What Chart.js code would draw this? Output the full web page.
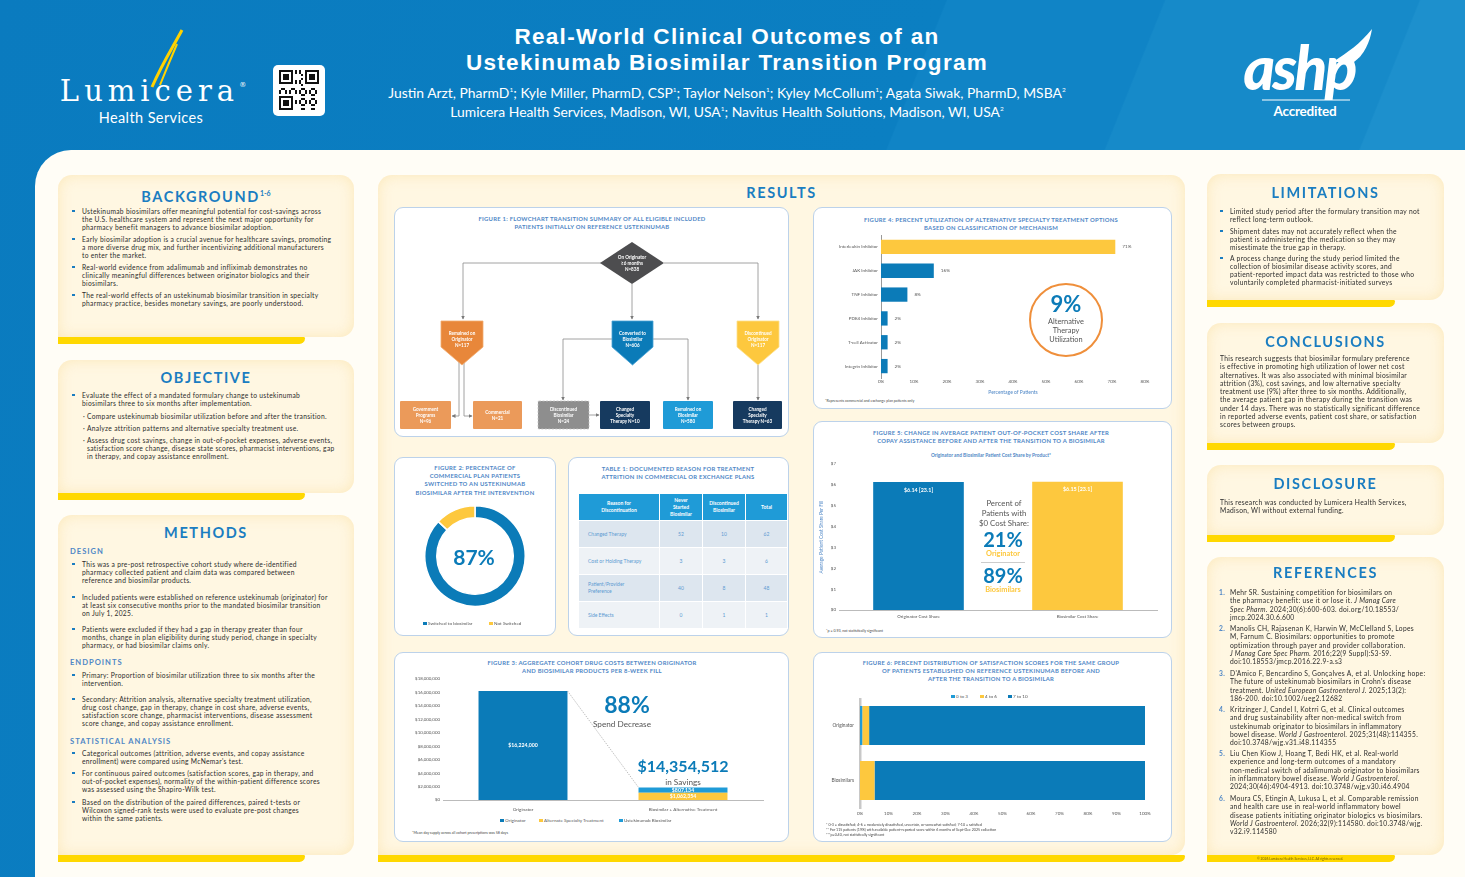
<!DOCTYPE html>
<html>
<head>
<meta charset="utf-8">
<script src="https://cdn.jsdelivr.net/npm/chart.js@4.4.1/dist/chart.umd.min.js"></script>
<style>
body{margin:0;background:#0b7fc2;}
#poster{position:relative;width:1465px;height:877px;overflow:hidden;font-family:Lato,"Open Sans",sans-serif;
 background:linear-gradient(112deg,#0a7bbf 0%,#0b7fc2 52%,#1084c6 52.1%,#1084c6 64%,#168ac9 64.1%,#168ac9 78%,#1d90cd 78.1%);}
#panel{position:absolute;left:35px;top:150px;width:1430px;height:727px;background:#fffdf6;border-top-left-radius:36px;}
.box{position:absolute;background:#fff7e2;border-radius:14px 14px 14px 0;box-shadow:inset 0 0 14px rgba(250,224,165,.65);}
.ybar{position:absolute;height:7px;background:#ffd800;border-radius:0 2px 8px 0;}
.st{position:absolute;font-weight:700;font-size:14.5px;line-height:16px;color:#1a7dc1;letter-spacing:1.6px;text-align:center;}
.st sup{font-size:7px;letter-spacing:0;}
.tx{position:absolute;font-size:6.7px;line-height:8.1px;letter-spacing:.3px;color:#2c2c2c;white-space:nowrap;}
.b::before{content:'';position:absolute;left:-10px;top:2.6px;width:2.8px;height:2.8px;background:#1a7dc1;}
.s::before{content:'\00B7';position:absolute;left:-4px;top:0;}
.n{position:absolute;left:-11px;color:#4f87c6;font-weight:700;}
.sh{position:absolute;font-weight:700;font-size:7.6px;line-height:10px;color:#4f87c6;letter-spacing:1px;}
.fig{position:absolute;background:#fff;border:1px solid #bcd2ea;border-radius:9px;box-sizing:border-box;}
.ft{position:absolute;font-weight:700;font-size:5.9px;line-height:8.2px;color:#4f87c6;letter-spacing:.25px;text-align:center;white-space:nowrap;transform:translateX(-50%);}
.c{position:absolute;transform:translate(-50%,-50%);white-space:nowrap;text-align:center;}
.fn{position:absolute;font-size:3.6px;line-height:5px;color:#444;white-space:nowrap;}
.lg{position:absolute;font-size:4.6px;color:#555;white-space:nowrap;transform:translateY(-50%);}
.lg i{display:inline-block;width:3.6px;height:3.6px;margin-right:1.5px;vertical-align:-0.3px;}
.cv{position:absolute;}
#tbl{position:absolute;left:578px;top:493px;border-collapse:collapse;font-size:5px;}
#tbl th{background:#1f9bd7;color:#fff;font-weight:700;height:26px;border:1.2px solid #fff;line-height:7px;padding:0 2px;}
#tbl td{color:#5d9bd2;height:24px;border:1.2px solid #fff;text-align:center;line-height:7px;}
#tbl td.r{text-align:left;padding-left:9px;}
#tbl tr:nth-child(odd) td{background:#eef2f6;}
#tbl tr:nth-child(even) td{background:#dde6ef;}
</style>
</head>
<body>
<div id="poster">

<!-- header -->
<svg style="position:absolute;left:0;top:0" width="1465" height="150">
  <path d="M182,30 C173,47 163,62 152,87" stroke="#ffd200" stroke-width="3" fill="none"/>
  <path d="M177,44 C171,58 166,70 160,85" stroke="#ffd200" stroke-width="2" fill="none"/>
  <rect x="273" y="65" width="52" height="51" rx="5" fill="#fff"/>
  <g id="qr" fill="#111"></g>
  <path d="M1333,62 C1348,52 1360,44 1372,29 C1370,42 1364,55 1354,62 Z" fill="#fff"/>
  <line x1="1262" y1="100" x2="1350" y2="100" stroke="#fff" stroke-width="1.2"/>
</svg>
<div class="c" style="left:153px;top:91px;color:#fff;font-family:'DejaVu Serif',serif;font-size:29px;letter-spacing:5px;">Lumicera<span style="font-size:7px;vertical-align:14px;letter-spacing:0">®</span></div>
<div class="c" style="left:151px;top:117px;color:#fff;font-size:14.5px;letter-spacing:.4px;">Health Services</div>
<div class="c" style="left:1302px;top:67px;color:#fff;font-weight:900;font-style:italic;font-size:60px;letter-spacing:-2.5px;">ashp<span style="font-size:7px;vertical-align:32px;font-style:normal;letter-spacing:0">®</span></div>
<div class="c" style="left:1305px;top:111px;color:#fff;font-weight:700;font-size:13.5px;letter-spacing:-.2px;">Accredited</div>
<div class="c" style="left:727px;top:50px;color:#fff;font-family:'Liberation Sans',Arial,sans-serif;font-weight:700;font-size:22.5px;line-height:26px;letter-spacing:1.3px;">Real-World Clinical Outcomes of an<br>Ustekinumab Biosimilar Transition Program</div>
<div class="c" style="left:727px;top:92px;color:#fff;font-size:13.9px;">Justin Arzt, PharmD<sup style="font-size:6.5px">1</sup>; Kyle Miller, PharmD, CSP<sup style="font-size:6.5px">1</sup>; Taylor Nelson<sup style="font-size:6.5px">1</sup>; Kyley McCollum<sup style="font-size:6.5px">1</sup>; Agata Siwak, PharmD, MSBA<sup style="font-size:6.5px">2</sup></div>
<div class="c" style="left:727px;top:111px;color:#fff;font-size:13.9px;">Lumicera Health Services, Madison, WI, USA<sup style="font-size:6.5px">1</sup>; Navitus Health Solutions, Madison, WI, USA<sup style="font-size:6.5px">2</sup></div>

<div id="panel"></div>

<!-- left column -->
<div class="box" style="left:58px;top:175px;width:296px;height:162px;"></div>
<div class="ybar" style="left:58px;top:337px;width:247px;"></div>
<div class="st" style="left:58px;top:185px;width:296px;">BACKGROUND<sup>1-6</sup></div>
<div class="tx b" style="left:82px;top:207px;">Ustekinumab biosimilars offer meaningful potential for cost-savings across<br>the U.S. healthcare system and represent the next major opportunity for<br>pharmacy benefit managers to advance biosimilar adoption.</div>
<div class="tx b" style="left:82px;top:235px;">Early biosimilar adoption is a crucial avenue for healthcare savings, promoting<br>a more diverse drug mix, and further incentivizing additional manufacturers<br>to enter the market.</div>
<div class="tx b" style="left:82px;top:263px;">Real-world evidence from adalimumab and infliximab demonstrates no<br>clinically meaningful differences between originator biologics and their<br>biosimilars.</div>
<div class="tx b" style="left:82px;top:291px;">The real-world effects of an ustekinumab biosimilar transition in specialty<br>pharmacy practice, besides monetary savings, are poorly understood.</div>

<div class="box" style="left:58px;top:360px;width:296px;height:133px;"></div>
<div class="ybar" style="left:58px;top:493px;width:247px;"></div>
<div class="st" style="left:58px;top:370px;width:296px;">OBJECTIVE</div>
<div class="tx b" style="left:82px;top:391px;">Evaluate the effect of a mandated formulary change to ustekinumab<br>biosimilars three to six months after implementation.</div>
<div class="tx s" style="left:87px;top:412px;">Compare ustekinumab biosimilar utilization before and after the transition.</div>
<div class="tx s" style="left:87px;top:424px;">Analyze attrition patterns and alternative specialty treatment use.</div>
<div class="tx s" style="left:87px;top:436px;">Assess drug cost savings, change in out-of-pocket expenses, adverse events,<br>satisfaction score change, disease state scores, pharmacist interventions, gap<br>in therapy, and copay assistance enrollment.</div>

<div class="box" style="left:58px;top:515px;width:296px;height:340px;"></div>
<div class="ybar" style="left:58px;top:855px;width:247px;"></div>
<div class="st" style="left:58px;top:525px;width:296px;">METHODS</div>
<div class="sh" style="left:70px;top:546px;">DESIGN</div>
<div class="tx b" style="left:82px;top:560px;">This was a pre-post retrospective cohort study where de-identified<br>pharmacy collected patient and claim data was compared between<br>reference and biosimilar products.</div>
<div class="tx b" style="left:82px;top:593px;">Included patients were established on reference ustekinumab (originator) for<br>at least six consecutive months prior to the mandated biosimilar transition<br>on July 1, 2025.</div>
<div class="tx b" style="left:82px;top:625px;">Patients were excluded if they had a gap in therapy greater than four<br>months, change in plan eligibility during study period, change in specialty<br>pharmacy, or had biosimilar claims only.</div>
<div class="sh" style="left:70px;top:657px;">ENDPOINTS</div>
<div class="tx b" style="left:82px;top:671px;">Primary: Proportion of biosimilar utilization three to six months after the<br>intervention.</div>
<div class="tx b" style="left:82px;top:695px;">Secondary: Attrition analysis, alternative specialty treatment utilization,<br>drug cost change, gap in therapy, change in cost share, adverse events,<br>satisfaction score change, pharmacist interventions, disease assessment<br>score change, and copay assistance enrollment.</div>
<div class="sh" style="left:70px;top:736px;">STATISTICAL ANALYSIS</div>
<div class="tx b" style="left:82px;top:749px;">Categorical outcomes (attrition, adverse events, and copay assistance<br>enrollment) were compared using McNemar's test.</div>
<div class="tx b" style="left:82px;top:769px;">For continuous paired outcomes (satisfaction scores, gap in therapy, and<br>out-of-pocket expenses), normality of the within-patient difference scores<br>was assessed using the Shapiro-Wilk test.</div>
<div class="tx b" style="left:82px;top:798px;">Based on the distribution of the paired differences, paired t-tests or<br>Wilcoxon signed-rank tests were used to evaluate pre-post changes<br>within the same patients.</div>

<!-- results column -->
<div class="box" style="left:378px;top:175px;width:807px;height:680px;"></div>
<div class="ybar" style="left:378px;top:855px;width:807px;"></div>
<div class="st" style="left:378px;top:185px;width:807px;">RESULTS</div>

<div class="fig" style="left:394px;top:207px;width:395px;height:230px;"></div>
<div class="ft" style="left:592px;top:215px;">FIGURE 1: FLOWCHART TRANSITION SUMMARY OF ALL ELIGIBLE INCLUDED<br>PATIENTS INITIALLY ON REFERENCE USTEKINUMAB</div>

<div class="fig" style="left:394px;top:457px;width:162px;height:179px;"></div>
<div class="ft" style="left:475px;top:464px;">FIGURE 2: PERCENTAGE OF<br>COMMERCIAL PLAN PATIENTS<br>SWITCHED TO AN USTEKINUMAB<br>BIOSIMILAR AFTER THE INTERVENTION</div>
<div class="cv" style="left:424px;top:505px;width:102px;height:102px;"><canvas id="fig2"></canvas></div>
<div class="c" style="left:474px;top:557px;font-size:21px;line-height:18px;font-weight:700;color:#0b7bb8;">87%</div>
<div id="leg2"></div>

<div class="fig" style="left:568px;top:457px;width:221px;height:179px;"></div>
<div class="ft" style="left:678px;top:465px;">TABLE 1: DOCUMENTED REASON FOR TREATMENT<br>ATTRITION IN COMMERCIAL OR EXCHANGE PLANS</div>
<table id="tbl"></table>

<div class="fig" style="left:394px;top:652px;width:395px;height:190px;"></div>
<div class="ft" style="left:592px;top:659px;">FIGURE 3: AGGREGATE COHORT DRUG COSTS BETWEEN ORIGINATOR<br>AND BIOSIMILAR PRODUCTS PER 8-WEEK FILL</div>
<div class="cv" style="left:396px;top:675px;width:374px;height:140px;"><canvas id="fig3"></canvas></div>
<div class="c" style="left:627px;top:704px;font-size:23px;line-height:16px;font-weight:700;color:#0b7bb8;">88%</div>
<div class="c" style="left:622px;top:723.5px;font-size:8.2px;line-height:7px;color:#555;">Spend Decrease</div>
<div class="c" style="left:683px;top:766px;font-size:16px;line-height:12px;font-weight:700;color:#0b7bb8;">$14,354,512</div>
<div class="c" style="left:683px;top:781.5px;font-size:8.2px;line-height:7px;color:#555;">in Savings</div>
<div id="leg3"></div>
<div class="fn" style="left:412px;top:830px;">*Mean day supply across all cohort prescriptions was 58 days</div>

<div class="fig" style="left:813px;top:207px;width:359px;height:202px;"></div>
<div class="ft" style="left:991px;top:216px;">FIGURE 4: PERCENT UTILIZATION OF ALTERNATIVE SPECIALTY TREATMENT OPTIONS<br>BASED ON CLASSIFICATION OF MECHANISM</div>
<div class="cv" style="left:820px;top:235px;width:345px;height:163px;"><canvas id="fig4"></canvas></div>
<div style="position:absolute;left:1029px;top:283px;width:74px;height:74px;border:2px solid #ef8f3b;border-radius:50%;box-sizing:border-box;"></div>
<div class="c" style="left:1066px;top:304px;font-size:22px;line-height:14px;font-weight:700;color:#0b7bb8;">9%</div>
<div class="c" style="left:1066px;top:330px;font-size:7.4px;line-height:9px;color:#555;">Alternative<br>Therapy<br>Utilization</div>
<div class="fn" style="left:825px;top:398px;">*Represents commercial and exchange plan patients only</div>

<div class="fig" style="left:813px;top:421px;width:359px;height:217px;"></div>
<div class="ft" style="left:991px;top:429px;">FIGURE 5: CHANGE IN AVERAGE PATIENT OUT-OF-POCKET COST SHARE AFTER<br>COPAY ASSISTANCE BEFORE AND AFTER THE TRANSITION TO A BIOSIMILAR</div>
<div class="c" style="left:991px;top:455px;font-size:4.8px;font-weight:700;color:#4f87c6;">Originator and Biosimilar Patient Cost Share by Product*</div>
<div class="cv" style="left:818px;top:460px;width:345px;height:162px;"><canvas id="fig5"></canvas></div>
<div class="c" style="left:1004px;top:514px;font-size:7.8px;line-height:9.8px;color:#555;">Percent of<br>Patients with<br>$0 Cost Share:</div>
<div class="c" style="left:1003px;top:539px;font-size:20px;line-height:15px;font-weight:700;color:#0b7bb8;">21%</div>
<div class="c" style="left:1003px;top:552.5px;font-size:7.4px;line-height:7px;font-weight:700;color:#fdc83e;">Originator</div>
<div style="position:absolute;left:981px;top:562px;width:44px;height:0;border-top:0.8px solid #ccc;"></div>
<div class="c" style="left:1003px;top:575px;font-size:20px;line-height:15px;font-weight:700;color:#0b7bb8;">89%</div>
<div class="c" style="left:1003px;top:588.5px;font-size:7.4px;line-height:7px;font-weight:700;color:#fdc83e;">Biosimilars</div>
<div class="fn" style="left:826px;top:628px;">*p = 0.93, not statistically significant</div>

<div class="fig" style="left:813px;top:652px;width:359px;height:190px;"></div>
<div class="ft" style="left:991px;top:659px;">FIGURE 6: PERCENT DISTRIBUTION OF SATISFACTION SCORES FOR THE SAME GROUP<br>OF PATIENTS ESTABLISHED ON REFERENCE USTEKINUMAB BEFORE AND<br>AFTER THE TRANSITION TO A BIOSIMILAR</div>
<div id="leg6"></div>
<div class="cv" style="left:815px;top:698px;width:345px;height:120px;"><canvas id="fig6"></canvas></div>
<div class="fn" style="left:826px;top:822px;">* 0-3 = dissatisfied; 4-6 = moderately dissatisfied, uncertain, or somewhat satisfied; 7-10 = satisfied<br>** For 115 patients (19%) with available patient-reported score within 6 months of Sept-Dec 2025 collection<br>***p=0.40, not statistically significant</div>

<!-- flowchart -->
<svg style="position:absolute;left:0;top:0" width="1465" height="877" font-family="Lato, sans-serif">
  <defs><marker id="ar" markerWidth="4" markerHeight="4" refX="3.5" refY="2" orient="auto" markerUnits="userSpaceOnUse"><path d="M0,0 L4,2 L0,4z" fill="#7a7a7a"/></marker></defs>
  <g stroke="#8a8a8a" stroke-width="0.8" fill="none">
    <polyline points="601,263 463,263 463,319" marker-end="url(#ar)"/>
    <polyline points="664,263 758,263 758,319" marker-end="url(#ar)"/>
    <polyline points="632,284 632,319" marker-end="url(#ar)"/>
    <polyline points="459,358 459,416 452,416" marker-end="url(#ar)"/>
    <polyline points="464,358 464,416 472,416" marker-end="url(#ar)"/>
    <polyline points="612,339 563,339 563,400" marker-end="url(#ar)"/>
    <polyline points="653,339 688,339 688,400" marker-end="url(#ar)"/>
    <polyline points="589,415 599,415" marker-end="url(#ar)"/>
    <polyline points="758,365 758,400" marker-end="url(#ar)"/>
  </g>
  <polygon points="632,242 664,263 632,284 600,263" fill="#4d4d4f"/>
  <polygon points="441,321 483,321 483,347 462,365 441,347" fill="#e8873a" stroke="#f2ac70" stroke-width="0.8"/>
  <polygon points="612,321 653,321 653,347 632.5,365 612,347" fill="#0b7bb8" stroke="#4aa3d6" stroke-width="0.8"/>
  <polygon points="737,321 779,321 779,347 758,365 737,347" fill="#fdc83e" stroke="#fde08a" stroke-width="0.8"/>
  <rect x="400" y="401" width="51" height="28" rx="1" fill="#eb9a5a"/>
  <rect x="473" y="401" width="49" height="28" rx="1" fill="#eb9a5a"/>
  <rect x="538" y="401" width="51" height="28" rx="1" fill="#8e8e8e" stroke="#c4c4c4" stroke-width="0.8" stroke-dasharray="2,1.5"/>
  <rect x="600" y="401" width="50" height="28" rx="1" fill="#163a5f"/>
  <rect x="663" y="401" width="50" height="28" rx="1" fill="#1f9bd7"/>
  <rect x="733" y="401" width="49" height="28" rx="1" fill="#163a5f"/>
  <g fill="#fff" font-size="4.6" font-weight="700" text-anchor="middle">
    <text x="632" y="259">On Originator</text><text x="632" y="265">≥6 months</text><text x="632" y="271">N=838</text>
    <text x="462" y="335">Remained on</text><text x="462" y="341">Originator</text><text x="462" y="347">N=117</text>
    <text x="632.5" y="335">Converted to</text><text x="632.5" y="341">Biosimilar</text><text x="632.5" y="347">N=606</text>
    <text x="758" y="335">Discontinued</text><text x="758" y="341">Originator</text><text x="758" y="347">N=117</text>
    <text x="425.5" y="411">Government</text><text x="425.5" y="417">Programs</text><text x="425.5" y="423">N=96</text>
    <text x="497.5" y="414">Commercial</text><text x="497.5" y="420">N=21</text>
    <text x="563.5" y="411">Discontinued</text><text x="563.5" y="417">Biosimilar</text><text x="563.5" y="423">N=24</text>
    <text x="625" y="411">Changed</text><text x="625" y="417">Specialty</text><text x="625" y="423">Therapy N=10</text>
    <text x="688" y="411">Remained on</text><text x="688" y="417">Biosimilar</text><text x="688" y="423">N=580</text>
    <text x="757.5" y="411">Changed</text><text x="757.5" y="417">Specialty</text><text x="757.5" y="423">Therapy N=63</text>
  </g>
</svg>

<!-- right column -->
<div class="box" style="left:1207px;top:174px;width:237px;height:126px;"></div>
<div class="ybar" style="left:1207px;top:300px;width:188px;"></div>
<div class="st" style="left:1207px;top:185px;width:237px;">LIMITATIONS</div>
<div class="tx b" style="left:1230px;top:207px;">Limited study period after the formulary transition may not<br>reflect long-term outlook.</div>
<div class="tx b" style="left:1230px;top:227px;">Shipment dates may not accurately reflect when the<br>patient is administering the medication so they may<br>misestimate the true gap in therapy.</div>
<div class="tx b" style="left:1230px;top:254px;">A process change during the study period limited the<br>collection of biosimilar disease activity scores, and<br>patient-reported impact data was restricted to those who<br>voluntarily completed pharmacist-initiated surveys</div>

<div class="box" style="left:1207px;top:323px;width:237px;height:120px;"></div>
<div class="ybar" style="left:1207px;top:443px;width:188px;"></div>
<div class="st" style="left:1207px;top:334px;width:237px;">CONCLUSIONS</div>
<div class="tx" style="left:1220px;top:354px;line-height:8.25px;">This research suggests that biosimilar formulary preference<br>is effective in promoting high utilization of lower net cost<br>alternatives. It was also associated with minimal biosimilar<br>attrition (3%), cost savings, and low alternative specialty<br>treatment use (9%) after three to six months. Additionally,<br>the average patient gap in therapy during the transition was<br>under 14 days. There was no statistically significant difference<br>in reported adverse events, patient cost share, or satisfaction<br>scores between groups.</div>

<div class="box" style="left:1207px;top:465px;width:237px;height:70px;"></div>
<div class="ybar" style="left:1207px;top:535px;width:188px;"></div>
<div class="st" style="left:1207px;top:476px;width:237px;">DISCLOSURE</div>
<div class="tx" style="left:1220px;top:498px;">This research was conducted by Lumicera Health Services,<br>Madison, WI without external funding.</div>

<div class="box" style="left:1207px;top:557px;width:237px;height:298px;"></div>
<div class="ybar" style="left:1207px;top:855px;width:188px;"></div>
<div class="c" style="left:1300px;top:858.5px;font-size:3.4px;color:#6d5c00;">© 2026 Lumicera Health Services, LLC. All rights reserved.</div>
<div class="st" style="left:1207px;top:565px;width:237px;">REFERENCES</div>
<div class="tx" style="left:1230px;top:588px;line-height:8.3px;"><span class="n">1.</span>Mehr SR. Sustaining competition for biosimilars on<br>the pharmacy benefit: use it or lose it. <i>J Manag Care<br>Spec Pharm.</i> 2024;30(6):600-603. doi.org/10.18553/<br>jmcp.2024.30.6.600</div>
<div class="tx" style="left:1230px;top:624px;line-height:8.3px;"><span class="n">2.</span>Manolis CH, Rajasenan K, Harwin W, McClelland S, Lopes<br>M, Farnum C. Biosimilars: opportunities to promote<br>optimization through payer and provider collaboration.<br><i>J Manag Care Spec Pharm.</i> 2016;22(9 Suppl):S3-S9.<br>doi:10.18553/jmcp.2016.22.9-a.s3</div>
<div class="tx" style="left:1230px;top:669px;line-height:8.3px;"><span class="n">3.</span>D'Amico F, Bencardino S, Gonçalves A, et al. Unlocking hope:<br>The future of ustekinumab biosimilars in Crohn's disease<br>treatment. <i>United European Gastroenterol J.</i> 2025;13(2):<br>186-200. doi:10.1002/ueg2.12682</div>
<div class="tx" style="left:1230px;top:705px;line-height:8.3px;"><span class="n">4.</span>Kritzinger J, Candel I, Kotrri G, et al. Clinical outcomes<br>and drug sustainability after non-medical switch from<br>ustekinumab originator to biosimilars in inflammatory<br>bowel disease. <i>World J Gastroenterol.</i> 2025;31(48):114355.<br>doi:10.3748/wjg.v31.i48.114355</div>
<div class="tx" style="left:1230px;top:749px;line-height:8.3px;"><span class="n">5.</span>Liu Chen Kiow J, Hoang T, Bedi HK, et al. Real-world<br>experience and long-term outcomes of a mandatory<br>non-medical switch of adalimumab originator to biosimilars<br>in inflammatory bowel disease. <i>World J Gastroenterol.</i><br>2024;30(46):4904-4913. doi:10.3748/wjg.v30.i46.4904</div>
<div class="tx" style="left:1230px;top:794px;line-height:8.3px;"><span class="n">6.</span>Moura CS, Etingin A, Lukusa L, et al. Comparable remission<br>and health care use in real-world inflammatory bowel<br>disease patients initiating originator biologics vs biosimilars.<br><i>World J Gastroenterol.</i> 2026;32(9):114580. doi:10.3748/wjg.<br>v32.i9.114580</div>

</div>

<script>
// Figure 2: commercial plan patients switched
const switchLabels = ["Switched to biosimilar", "Not Switched"];
const switchValues = [87, 13];

// Table 1: reasons for attrition
const reasonLabels = ["Changed Therapy", "Cost or Holding Therapy", "Patient/Provider<br>Preference", "Side Effects"];
const neverStarted = [52, 3, 40, 0];
const discontinued = [10, 3, 8, 1];
const reasonTotals = [62, 6, 48, 1];

// Figure 3: aggregate drug costs per 8-week fill
const costCategories = ["Originator", "Biosimilar + Alternative Treatment"];
const costSeries = ["Originator", "Alternate Specialty Treatment", "Ustekinumab Biosimilar"];
const originatorCost = [16224000, null];
const alternateCost = [null, 1062354];
const biosimilarCost = [null, 807134];

// Figure 4: alternative specialty treatment by mechanism
const mechanisms = ["Interleukin Inhibitor", "JAK Inhibitor", "TNF Inhibitor", "PDE4 Inhibitor", "T-cell Activator", "Integrin Inhibitor"];
const mechanismPct = [71, 16, 8, 2, 2, 2];

// Figure 5: average patient cost share per fill
const shareCategories = ["Originator Cost Share", "Biosimilar Cost Share"];
const shareMeans = [6.14, 6.15];
const shareSD = [23.1, 23.1];

// Figure 6: satisfaction score distribution (%)
const satGroups = ["Originator", "Biosimilars"];
const satSeries = ["0 to 3", "4 to 6", "7 to 10"];
const satLow = [0.8, 0];
const satMid = [2.4, 5.1];
const satHigh = [96.8, 94.9];

const BLUE = "#0b7bb8";
const LIGHTBLUE = "#1f9bd7";
const YELLOW = "#fdc83e";

Chart.defaults.font.family = "Lato, sans-serif";
Chart.defaults.color = "#555";
Chart.defaults.animation = false;
Chart.defaults.plugins.legend.display = false;
Chart.defaults.plugins.tooltip.enabled = false;

// fixed axis sizes so the plot areas land where the poster has them
const fixW = (w) => (s) => { s.width = w; s.paddingTop = 0; s.paddingBottom = 0; };
const fixH = (h) => (s) => { s.height = h; s.paddingLeft = 0; s.paddingRight = 0; };
const noGrid = { display: false, drawTicks: false };

// QR code decoration
const qr = document.getElementById("qr");
function qrCell(x, y) {
    const r = document.createElementNS("http://www.w3.org/2000/svg", "rect");
    r.setAttribute("x", 279 + x * 2); r.setAttribute("y", 70 + y * 2);
    r.setAttribute("width", 2); r.setAttribute("height", 2);
    qr.appendChild(r);
}
function finder(ox, oy) {
    for (let i = 0; i < 7; i++) for (let j = 0; j < 7; j++) {
        const edge = i == 0 || j == 0 || i == 6 || j == 6;
        const core = i >= 2 && i <= 4 && j >= 2 && j <= 4;
        if (edge || core) qrCell(ox + i, oy + j);
    }
}
finder(0, 0); finder(13, 0); finder(0, 13);
for (let i = 0; i < 20; i++) for (let j = 0; j < 20; j++) {
    const inFinder = (i < 8 && j < 8) || (i > 11 && j < 8) || (i < 8 && j > 11);
    if (!inFinder && ((i * 7 + j * 11 + i * j) % 5 < 2)) qrCell(i, j);
}

// legends
function legend(id, names, colors, xs, y) {
    const el = document.getElementById(id);
    names.forEach((n, i) => {
        const d = document.createElement("div");
        d.className = "lg";
        d.style.left = xs[i] + "px";
        d.style.top = y + "px";
        d.innerHTML = `<i style="background:${colors[i]}"></i>${n}`;
        el.appendChild(d);
    });
}
legend("leg2", switchLabels, [BLUE, YELLOW], [423, 489], 623);
legend("leg3", costSeries, [BLUE, YELLOW, LIGHTBLUE], [500, 539, 619], 820);
legend("leg6", satSeries, [LIGHTBLUE, YELLOW, BLUE], [951, 980, 1008], 696);

// Table 1
const tbl = document.getElementById("tbl");
let html = '<tr><th style="width:76px">Reason for<br>Discontinuation</th><th style="width:38px">Never<br>Started<br>Biosimilar</th><th style="width:38px">Discontinued<br>Biosimilar</th><th style="width:37px">Total</th></tr>';
reasonLabels.forEach((r, i) => {
    html += `<tr><td class="r">${r}</td><td>${neverStarted[i]}</td><td>${discontinued[i]}</td><td>${reasonTotals[i]}</td></tr>`;
});
tbl.innerHTML = html;

// Figure 2
new Chart(document.getElementById("fig2"), {
    type: "doughnut",
    data: { labels: switchLabels, datasets: [{ data: switchValues, backgroundColor: [BLUE, YELLOW], borderColor: "#fff", borderWidth: 1.5 }] },
    options: { responsive: true, maintainAspectRatio: false, cutout: "76%" },
});

// Figure 3
const costLabels = {
    id: "costLabels",
    afterDatasetsDraw(chart) {
        const ctx = chart.ctx;
        ctx.save();
        ctx.font = "bold 5.2px Lato";
        ctx.fillStyle = "#fff";
        ctx.textAlign = "center";
        ctx.textBaseline = "middle";
        chart.data.datasets.forEach((ds, d) => {
            chart.getDatasetMeta(d).data.forEach((el, i) => {
                if (ds.data[i] == null) return;
                ctx.fillText("$" + ds.data[i].toLocaleString("en-US"), el.x, (el.y + el.base) / 2);
            });
        });
        // dotted connector from originator top to biosimilar stack top
        const a = chart.getDatasetMeta(0).data[0];
        const b = chart.getDatasetMeta(2).data[1];
        ctx.strokeStyle = "#888";
        ctx.lineWidth = 0.6;
        ctx.setLineDash([1.2, 1.2]);
        ctx.beginPath();
        ctx.moveTo(a.x + a.width / 2, a.y);
        ctx.lineTo(b.x - b.width / 2, b.y);
        ctx.stroke();
        ctx.restore();
    },
};
new Chart(document.getElementById("fig3"), {
    type: "bar",
    data: {
        labels: costCategories,
        datasets: [
            { label: costSeries[0], data: originatorCost, backgroundColor: BLUE },
            { label: costSeries[1], data: alternateCost, backgroundColor: YELLOW },
            { label: costSeries[2], data: biosimilarCost, backgroundColor: LIGHTBLUE },
        ],
    },
    options: {
        responsive: true, maintainAspectRatio: false,
        layout: { autoPadding: false, padding: { top: 4, right: 7 } },
        datasets: { bar: { barPercentage: 0.556, categoryPercentage: 1 } },
        scales: {
            x: { stacked: true, grid: noGrid, border: { color: "#bbb" }, ticks: { font: { size: 4.6 }, padding: 7 }, afterFit: fixH(15) },
            y: { stacked: true, min: 0, max: 18000000, grid: noGrid, border: { display: false },
                 ticks: { stepSize: 2000000, font: { size: 4.4 }, padding: 3, callback: (v) => "$" + v.toLocaleString("en-US") }, afterFit: fixW(47) },
        },
    },
    plugins: [costLabels],
});

// Figure 4
const pctLabels = {
    id: "pctLabels",
    afterDatasetsDraw(chart) {
        const ctx = chart.ctx;
        ctx.save();
        ctx.font = "4.6px Lato";
        ctx.fillStyle = "#555";
        ctx.textBaseline = "middle";
        chart.getDatasetMeta(0).data.forEach((el, i) => ctx.fillText(mechanismPct[i] + "%", el.x + 7, el.y));
        ctx.restore();
    },
};
new Chart(document.getElementById("fig4"), {
    type: "bar",
    data: { labels: mechanisms, datasets: [{ data: mechanismPct, backgroundColor: (c) => (c.dataIndex === 0 ? YELLOW : BLUE), barPercentage: 0.6, categoryPercentage: 1 }] },
    options: {
        indexAxis: "y", responsive: true, maintainAspectRatio: false,
        layout: { autoPadding: false, padding: { right: 20 } },
        scales: {
            x: { min: 0, max: 80, grid: noGrid, border: { display: false },
                 ticks: { stepSize: 10, font: { size: 4.5 }, padding: 1, callback: (v) => v + "%" },
                 title: { display: true, text: "Percentage of Patients", color: "#4f87c6", font: { size: 5 }, padding: { top: 3, bottom: 3 } },
                 afterFit: fixH(20) },
            y: { grid: noGrid, border: { color: "#999" }, ticks: { font: { size: 4.5 }, padding: 3 }, afterFit: fixW(61) },
        },
    },
    plugins: [pctLabels],
});

// Figure 5
const shareLabels = {
    id: "shareLabels",
    afterDatasetsDraw(chart) {
        const ctx = chart.ctx;
        ctx.save();
        ctx.font = "bold 5.4px Lato";
        ctx.fillStyle = "#fff";
        ctx.textAlign = "center";
        ctx.textBaseline = "middle";
        chart.getDatasetMeta(0).data.forEach((el, i) => ctx.fillText(`$${shareMeans[i].toFixed(2)} [${shareSD[i]}]`, el.x, el.y + 8));
        ctx.restore();
    },
};
new Chart(document.getElementById("fig5"), {
    type: "bar",
    data: { labels: shareCategories, datasets: [{ data: shareMeans, backgroundColor: [BLUE, YELLOW], barPercentage: 0.57, categoryPercentage: 1 }] },
    options: {
        responsive: true, maintainAspectRatio: false,
        layout: { autoPadding: false, padding: { top: 4, right: 6 } },
        scales: {
            x: { grid: noGrid, border: { color: "#bbb" }, ticks: { font: { size: 4.5 }, padding: 4 }, afterFit: fixH(12) },
            y: { min: 0, max: 7, grid: noGrid, border: { display: false },
                 ticks: { stepSize: 1, font: { size: 4.5 }, padding: 3, callback: (v) => "$" + v },
                 title: { display: true, text: "Average Patient Cost Share Per Fill", color: "#4f87c6", font: { size: 4.8 }, padding: 1 },
                 afterFit: fixW(21) },
        },
    },
    plugins: [shareLabels],
});

// Figure 6
new Chart(document.getElementById("fig6"), {
    type: "bar",
    data: {
        labels: satGroups,
        datasets: [
            { label: satSeries[0], data: satLow, backgroundColor: LIGHTBLUE },
            { label: satSeries[1], data: satMid, backgroundColor: YELLOW },
            { label: satSeries[2], data: satHigh, backgroundColor: BLUE },
        ],
    },
    options: {
        indexAxis: "y", responsive: true, maintainAspectRatio: false,
        layout: { autoPadding: false, padding: { right: 15 } },
        datasets: { bar: { barPercentage: 0.71, categoryPercentage: 1 } },
        scales: {
            x: { stacked: true, min: 0, max: 100, grid: noGrid, border: { display: false },
                 ticks: { stepSize: 10, font: { size: 4.5 }, padding: 3, callback: (v) => v + "%" }, afterFit: fixH(10) },
            y: { stacked: true, grid: noGrid, border: { color: "#c8c8c8", width: 2.5 }, ticks: { font: { size: 4.8 }, padding: 6 }, afterFit: fixW(45) },
        },
    },
});
</script>
</body>
</html>
